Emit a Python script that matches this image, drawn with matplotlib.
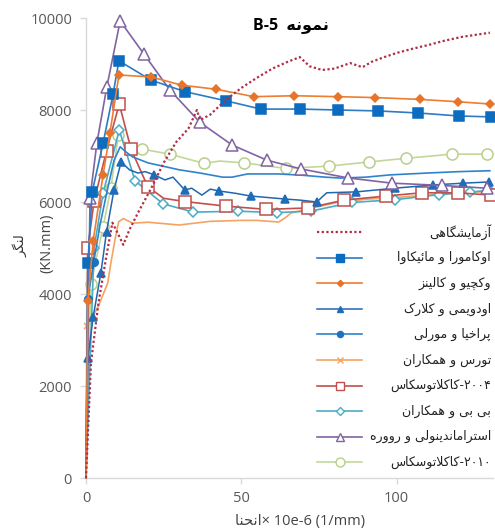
import matplotlib
matplotlib.use('Agg')
import matplotlib.pyplot as plt
from matplotlib.lines import Line2D

# ---------------- Persian shaping helper ----------------
_F = {
    'ا': ('\uFE8D', '\uFE8E'), 'آ': ('\uFE81', '\uFE82'), 'د': ('\uFEA9', '\uFEAA'),
    'ذ': ('\uFEAB', '\uFEAC'), 'ر': ('\uFEAD', '\uFEAE'), 'ز': ('\uFEAF', '\uFEB0'),
    'ژ': ('\uFB8A', '\uFB8B'), 'و': ('\uFEED', '\uFEEE'),
    'ب': ('\uFE8F', '\uFE90', '\uFE91', '\uFE92'), 'پ': ('\uFB56', '\uFB57', '\uFB58', '\uFB59'),
    'ت': ('\uFE95', '\uFE96', '\uFE97', '\uFE98'), 'ج': ('\uFE9D', '\uFE9E', '\uFE9F', '\uFEA0'),
    'چ': ('\uFB7A', '\uFB7B', '\uFB7C', '\uFB7D'), 'ح': ('\uFEA1', '\uFEA2', '\uFEA3', '\uFEA4'),
    'خ': ('\uFEA5', '\uFEA6', '\uFEA7', '\uFEA8'), 'س': ('\uFEB1', '\uFEB2', '\uFEB3', '\uFEB4'),
    'ش': ('\uFEB5', '\uFEB6', '\uFEB7', '\uFEB8'), 'ک': ('\uFB8E', '\uFB8F', '\uFB90', '\uFB91'),
    'گ': ('\uFB92', '\uFB93', '\uFB94', '\uFB95'), 'ل': ('\uFEDD', '\uFEDE', '\uFEDF', '\uFEE0'),
    'م': ('\uFEE1', '\uFEE2', '\uFEE3', '\uFEE4'), 'ن': ('\uFEE5', '\uFEE6', '\uFEE7', '\uFEE8'),
    'ه': ('\uFEE9', '\uFEEA', '\uFEEB', '\uFEEC'), 'ی': ('\uFBFC', '\uFBFD', '\uFBFE', '\uFBFF'),
    'ئ': ('\uFE89', '\uFE8A', '\uFE8B', '\uFE8C'),
}


def _shape(s):
    items = []
    i = 0
    while i < len(s):
        c = s[i]
        if c == 'ل' and i + 1 < len(s) and s[i + 1] in 'اآ':
            items.append(('LA', s[i + 1]))
            i += 2
        else:
            items.append((c, None))
            i += 1

    def jt(it):
        if it[0] == 'LA':
            return 'R'
        f = _F.get(it[0])
        if f is None:
            return None
        return 'D' if len(f) == 4 else 'R'

    out = []
    n = len(items)
    for k, it in enumerate(items):
        t = jt(it)
        if t is None:
            out.append(it[0])
            continue
        prev = jt(items[k - 1]) if k > 0 else None
        nxt = jt(items[k + 1]) if k + 1 < n else None
        jp = prev == 'D'
        jn = t == 'D' and nxt is not None
        if it[0] == 'LA':
            lig = {'ا': ('\uFEFB', '\uFEFC'), 'آ': ('\uFEF5', '\uFEF6')}[it[1]]
            out.append(lig[1] if jp else lig[0])
            continue
        f = _F[it[0]]
        if jp and jn:
            g = f[3]
        elif jp:
            g = f[1]
        elif jn:
            g = f[2]
        else:
            g = f[0]
        out.append(g)
    return out


def fa(s):
    g = _shape(s)
    runs = []
    for ch in g:
        ltr = ch.isdigit() or ('A' <= ch <= 'z')
        if runs and runs[-1][0] == ltr:
            runs[-1][1].append(ch)
        else:
            runs.append([ltr, [ch]])
    res = []
    for ltr, chs in reversed(runs):
        res.append(''.join(chs) if ltr else ''.join(reversed(chs)))
    return ''.join(res)


# ---------------- data ----------------
exp_x = [0, 1.6, 4, 6.5, 8.5, 10, 12, 14, 17, 21, 25, 29, 33, 35.7, 36.7, 40, 45, 50, 55, 60,
         65, 68.8, 72, 76, 80, 85, 89, 92, 96, 100, 105, 110, 115, 121, 126, 130]
exp_y = [0, 2500, 3800, 4800, 5550, 5350, 5070, 5400, 5800, 6300, 6850, 7300, 7600, 8000, 7780,
         7900, 8220, 8480, 8700, 8900, 9050, 9150, 8950, 8870, 8900, 9020, 8930, 9050, 9150,
         9240, 9330, 9410, 9500, 9590, 9640, 9680]

oka_x = [0, 0.6, 2, 5.5, 8.7, 10.6, 20.9, 31.8, 45, 56.3, 69, 81, 94, 107, 120, 130.5]
oka_y = [0, 4670, 6220, 7280, 8340, 9070, 8650, 8400, 8200, 8020, 8020, 8000, 7980, 7935, 7870, 7850]

vec_x = [0, 0.6, 2.3, 5.5, 7.7, 10.6, 20.9, 30.8, 42, 54, 67, 81, 93, 107.5, 119.6, 130]
vec_y = [0, 3840, 5150, 6590, 7500, 8760, 8720, 8540, 8450, 8290, 8310, 8290, 8270, 8230, 8180, 8130]

odu_x = [0, 0.6, 2.3, 4.8, 6.6, 9, 11.3, 14, 16.7, 19, 22, 25.4, 28, 31.8, 34, 37.3, 40, 42.8,
         48, 53, 58, 64, 69, 74.3, 76, 77.5, 87, 99.4, 111.6, 121.5, 129.6]
odu_y = [0, 2600, 3500, 4460, 5350, 6260, 6870, 6700, 6630, 6660, 6590, 6480, 6540, 6260, 6300,
         6150, 6280, 6240, 6190, 6130, 6100, 6065, 6040, 6000, 6110, 6200, 6220, 6300, 6370,
         6410, 6435]
odu_marks = [1, 2, 3, 4, 5, 6, 10, 13, 17, 19, 21, 23, 26, 27, 28, 29, 30]

pra_x = [0, 0.6, 2.5, 4.5, 7, 9, 11, 13, 15, 20, 26, 30, 36.7, 44, 47, 52, 62, 70, 77, 82, 90,
         98, 110, 120, 130]
pra_y = [0, 3900, 4700, 5500, 6300, 6900, 7200, 7080, 6980, 6850, 6760, 6700, 6630, 6540, 6540,
         6610, 6610, 6580, 6540, 6520, 6540, 6590, 6630, 6660, 6680]
pra_marks = [1, 2]

tor_x = [0, 0.3, 3.9, 7, 8, 9.3, 10.5, 12, 15, 20, 25, 30, 40, 50, 55, 62, 64, 66, 70, 75, 80,
         90, 100, 110, 120, 130]
tor_y = [0, 3300, 3720, 4240, 4670, 5170, 5570, 5640, 5540, 5560, 5530, 5500, 5580, 5600, 5600,
         5565, 5650, 5760, 5830, 5900, 5980, 6060, 6100, 6150, 6200, 6230]
tor_marks = [1]

k04_x = [0, 0.6, 2.6, 6.6, 10.7, 14.5, 19.9, 25, 31.8, 45, 58, 71.4, 83, 96.5, 108, 119.6, 130.5]
k04_y = [0, 5000, 6020, 7110, 8130, 7150, 6330, 6080, 6010, 5910, 5840, 5870, 6040, 6130, 6200,
         6200, 6150]
k04_marks = [1, 2, 3, 4, 5, 6, 8, 9, 10, 11, 12, 13, 14, 15, 16]

bib_x = [0, 2.6, 5.5, 10.7, 15.8, 24.8, 34.6, 49, 61.4, 72.3, 85.5, 99.4, 113.5, 123.5, 129.6]
bib_y = [0, 5000, 6190, 7565, 6460, 5960, 5780, 5800, 5770, 5800, 5990, 6050, 6160, 6210, 6260]

str_x = [0, 1.3, 3.5, 6.7, 11, 18.6, 27, 36.7, 47, 58.2, 69.1, 84.2, 98.4, 114.6, 129]
str_y = [0, 6090, 7280, 8500, 9935, 9220, 8435, 7730, 7240, 6910, 6720, 6525, 6410, 6360, 6300]

k10_x = [0, 1.6, 5.5, 8, 10.4, 13, 18, 27, 38, 43, 51, 64.3, 78.3, 91, 103, 117.7, 129]
k10_y = [0, 4220, 5460, 6300, 7450, 7250, 7150, 7040, 6840, 6890, 6850, 6730, 6780, 6870, 6950,
         7040, 7040]
k10_marks = [1, 2, 3, 4, 6, 7, 8, 10, 11, 12, 13, 14, 15, 16]

labels = ['آزمایشگاهی', 'اوکامورا و مائیکاوا', 'وکچیو و کالینز', 'اودویمی و کلارک',
          'پراخیا و مورلی', 'تورس و همکاران', '۲۰۰۴-کاکلاتوسکاس', 'بی بی و همکاران',
          'استراماندینولی و رووره', '۲۰۱۰-کاکلاتوسکاس']

x_ticks = [0, 50, 100]
y_ticks = [0, 2000, 4000, 6000, 8000, 10000]

# ---------------- figure ----------------
W, H = 495, 530
fig = plt.figure(figsize=(W / 100, H / 100), dpi=100)
L, R, B, T = 86, 493, 478, 18
ax = fig.add_axes([L / W, 1 - B / H, (R - L) / W, (B - T) / H])
ax.set_xlim(0, 131)
ax.set_ylim(0, 10000)

styles = [
    dict(x=exp_x, y=exp_y, color='#B02E46', ls=(0, (1, 1.1)), lw=1.6, marker=None),
    dict(x=oka_x, y=oka_y, color='#2E7BC4', lw=1.2, marker='s', ms=6.5, mfc='#0B6CC0',
         mec='#0B6CC0', markevery=list(range(1, len(oka_x)))),
    dict(x=vec_x, y=vec_y, color='#ED7D31', lw=1.2, marker='D', ms=4, mfc='#E8742A',
         mec='#E8742A', markevery=list(range(1, len(vec_x)))),
    dict(x=odu_x, y=odu_y, color='#2266AE', lw=1.1, marker='^', ms=6, mfc='#1F6CB8',
         mec='#1F6CB8', markevery=odu_marks),
    dict(x=pra_x, y=pra_y, color='#2F83CC', lw=1.2, marker='o', ms=5.5, mfc='#1F72C0',
         mec='#1F72C0', markevery=pra_marks),
    dict(x=tor_x, y=tor_y, color='#F4A460', lw=1.2, marker='x', ms=5, mfc='#F4A460',
         mec='#F4A460', markevery=tor_marks),
    dict(x=k04_x, y=k04_y, color='#C0504D', lw=1.2, marker='s', ms=8, mfc='white',
         mec='#C0504D', markevery=k04_marks),
    dict(x=bib_x, y=bib_y, color='#4BACC6', lw=1.2, marker='D', ms=5.5, mfc='white',
         mec='#4BACC6', markevery=list(range(1, len(bib_x)))),
    dict(x=str_x, y=str_y, color='#8064A2', lw=1.2, marker='^', ms=8, mfc='white',
         mec='#8064A2', markevery=list(range(1, len(str_x)))),
    dict(x=k10_x, y=k10_y, color='#C4D79B', lw=1.2, marker='o', ms=8, mfc='white',
         mec='#B9CF8C', markevery=k10_marks),
]

draw_order = [5, 9, 7, 6, 3, 4, 8, 1, 2, 0]
for z, idx in enumerate(draw_order):
    s = styles[idx]
    kw = dict(color=s['color'], lw=s['lw'], zorder=3 + z, clip_on=False)
    if s.get('ls') is not None:
        kw['linestyle'] = s['ls']
    if s['marker'] is not None:
        kw.update(marker=s['marker'], markersize=s['ms'], markerfacecolor=s['mfc'],
                  markeredgecolor=s['mec'], markeredgewidth=1.1, markevery=s['markevery'])
    ax.plot(s['x'], s['y'], **kw)

# axes styling
for sp in ['top', 'right']:
    ax.spines[sp].set_visible(False)
for sp in ['left', 'bottom']:
    ax.spines[sp].set_color('#D9D9D9')
    ax.spines[sp].set_linewidth(1.0)
ax.set_xticks(x_ticks)
ax.set_yticks(y_ticks)
ax.tick_params(axis='both', colors='#D9D9D9', labelcolor='#595959', labelsize=10.5,
               length=4, width=1)
ax.tick_params(axis='y', pad=6)
ax.tick_params(axis='x', pad=5)
for lab in ax.get_xticklabels() + ax.get_yticklabels():
    lab.set_family(['Open Sans', 'DejaVu Sans'])

# manual right-aligned legend
def to_ax(px, py):
    return (px - L) / (R - L), (B - py) / (B - T)

for i, lab in enumerate(labels):
    s = styles[i]
    py = 232 + 25.6 * i
    x0, yy = to_ax(317, py)
    x1, _ = to_ax(362, py)
    xm, _ = to_ax(339.5, py)
    kw = dict(color=s['color'], lw=s['lw'], transform=ax.transAxes, clip_on=False)
    if s.get('ls') is not None:
        kw['linestyle'] = s['ls']
    ax.add_line(Line2D([x0, x1], [yy, yy], **kw))
    if s['marker'] is not None:
        ax.add_line(Line2D([xm], [yy], marker=s['marker'], markersize=s['ms'] * 0.8,
                           markerfacecolor=s['mfc'], markeredgecolor=s['mec'],
                           markeredgewidth=1.0, linestyle='none', transform=ax.transAxes,
                           clip_on=False))
    xt, _ = to_ax(491, py)
    ax.text(xt, yy, fa(lab), transform=ax.transAxes, ha='right', va='center',
            fontsize=9, color='#222222', family=['DejaVu Sans'])

# title
fig.text(291 / W, 1 - 25 / H, 'B-5  ' + fa('نمونه'), ha='center', va='center',
         fontsize=11.5, fontweight='bold', color='black', family=['Open Sans', 'DejaVu Sans'])

# y label (two columns, rotated)
fig.text(20 / W, 1 - 246 / H, fa('لنگر'), rotation=90, ha='center', va='center',
         fontsize=9.5, color='#333333', family=['DejaVu Sans'])
fig.text(47 / W, 1 - 243 / H, '(KN.mm)', rotation=90, ha='center', va='center',
         fontsize=10.5, color='#444444', family=['Open Sans', 'DejaVu Sans'])

# x label
fig.text(300 / W, 1 - 521 / H, fa('انحنا') + '× 10e-6 (1/mm)', ha='center', va='center',
         fontsize=10.5, color='#444444', family=['Open Sans', 'DejaVu Sans'])

fig.savefig('out.png', dpi=100)
